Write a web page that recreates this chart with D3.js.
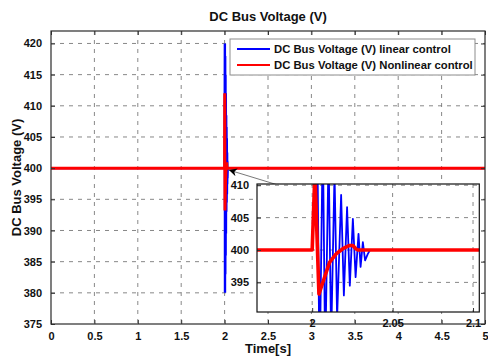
<!DOCTYPE html>
<html>
<head>
<meta charset="utf-8">
<script src="https://cdn.jsdelivr.net/npm/d3@7"></script>
<style>
  html, body { margin: 0; padding: 0; background: #fff; }
  svg { display: block; }
  text { font-family: "Liberation Sans", Arial, sans-serif; font-weight: bold; fill: #111; }
</style>
</head>
<body>
<svg id="chart" width="488" height="358"></svg>
<script>
// ---- data ----
const titleText = "DC Bus Voltage (V)";
const xLabelText = "Time[s]";
const yLabelText = "DC Bus Voltage (V)";
const seriesNames = ["DC Bus Voltage (V) linear control", "DC Bus Voltage (V) Nonlinear control"];
const seriesColors = ["#0000ff", "#ff0000"];

const mainXTicks = [0, 0.5, 1, 1.5, 2, 2.5, 3, 3.5, 4, 4.5, 5];
const mainXTickLabels = ["0", "0.5", "1", "1.5", "2", "2.5", "3", "3.5", "4", "4.5", "5"];
const mainYTicks = [375, 380, 385, 390, 395, 400, 405, 410, 415, 420];
const insetXTicks = [2, 2.05, 2.1];
const insetXTickLabels = ["2", "2.05", "2.1"];
const insetYTicks = [395, 400, 405, 410];

// linear control: oscillating transient after the step at t = 2 s
const linearTime = [0, 2.0, 2.0031, 2.0046, 2.0066, 2.0081, 2.0102, 2.0118, 2.0139, 2.0155,
  2.0180, 2.0197, 2.0217, 2.0234, 2.0253, 2.0270, 2.0288, 2.0301, 2.0315, 2.0329, 2.0346, 2.036, 5];
const linearVolt = [400, 400, 420, 380, 418, 383, 415, 386, 412, 389.5,
  408.5, 393, 406.6, 394.5, 404.8, 395.8, 402.5, 397.4, 401.2, 398.4, 399.4, 400, 400];

// nonlinear control: single overshoot, damped recovery
const nonlinearTime = [0, 2.0, 2.0017, 2.0042, 2.0077, 2.0108, 2.0149, 2.0191, 2.0232, 2.0253, 2.0273, 2.0284, 5];
const nonlinearVolt = [400, 400, 412, 393.2, 395.8, 398.1, 399.4, 400.2, 400.7, 400.7, 400.15, 400, 400];

// zoom-arrow: tip near the transient, tail at the inset corner (main-axes data units)
const arrowTip = [2.05, 399.7];
const arrowTail = [2.59, 397.4];

// ---- layout ----
const svg = d3.select("#chart");
const main = { left: 51, top: 31, right: 485, bottom: 324 };
const inset = { left: 257, top: 184, right: 479.3, bottom: 312 };

const x = d3.scaleLinear().domain([0, 5]).range([main.left, main.right]);
const y = d3.scaleLinear().domain([375, 422]).range([main.bottom, main.top]);
const xi = d3.scaleLinear().domain([1.9657, 2.1039]).range([inset.left, inset.right]);
const yi = d3.scaleLinear().domain([390.43, 410.19]).range([inset.bottom, inset.top]);

const gridColor = "#7a7a7a";
const dash = "4,5";

const defs = svg.append("defs");
defs.append("clipPath").attr("id", "clipMain").append("rect")
  .attr("x", main.left).attr("y", main.top)
  .attr("width", main.right - main.left).attr("height", main.bottom - main.top);
defs.append("clipPath").attr("id", "clipInset").append("rect")
  .attr("x", inset.left).attr("y", inset.top)
  .attr("width", inset.right - inset.left).attr("height", inset.bottom - inset.top);
defs.append("marker").attr("id", "arrowHead")
  .attr("viewBox", "0 0 10 10").attr("refX", 10).attr("refY", 5)
  .attr("markerWidth", 11).attr("markerHeight", 8).attr("markerUnits", "userSpaceOnUse")
  .attr("orient", "auto")
  .append("path").attr("d", "M0,0 L10,5 L0,10 L3,5 Z").attr("fill", "#000");

// plot area background
svg.append("rect").attr("x", main.left).attr("y", main.top)
  .attr("width", main.right - main.left).attr("height", main.bottom - main.top)
  .attr("fill", "#fff");

// grid of the main axes
const gMainGrid = svg.append("g");
gMainGrid.selectAll("line.gx").data(mainXTicks.slice(1, -1)).join("line")
  .attr("x1", d => x(d)).attr("x2", d => x(d))
  .attr("y1", main.top).attr("y2", main.bottom)
  .attr("stroke", gridColor).attr("stroke-width", 0.9).attr("stroke-dasharray", dash);
gMainGrid.selectAll("line.gy").data(mainYTicks.slice(1)).join("line")
  .attr("y1", d => y(d)).attr("y2", d => y(d))
  .attr("x1", main.left).attr("x2", main.right)
  .attr("stroke", gridColor).attr("stroke-width", 0.9).attr("stroke-dasharray", dash);

// series in the main axes
const lineMain = d3.line().x(d => x(d[0])).y(d => y(d[1]));
const linearPts = linearTime.map((t, i) => [t, linearVolt[i]]);
const nonlinearPts = nonlinearTime.map((t, i) => [t, nonlinearVolt[i]]);
const gMainData = svg.append("g").attr("clip-path", "url(#clipMain)");
gMainData.append("path").datum(linearPts).attr("d", lineMain)
  .attr("fill", "none").attr("stroke", seriesColors[0]).attr("stroke-width", 2.4);
gMainData.append("path").datum(nonlinearPts).attr("d", lineMain)
  .attr("fill", "none").attr("stroke", seriesColors[1]).attr("stroke-width", 3);

// main axes frame and inward ticks (all four sides)
const gMainAxes = svg.append("g");
const tickLen = 4;
gMainAxes.append("g").attr("transform", `translate(0,${main.bottom})`)
  .call(d3.axisBottom(x).tickValues(mainXTicks).tickFormat((d, i) => mainXTickLabels[i]).tickSizeInner(-tickLen).tickSizeOuter(0).tickPadding(8));
gMainAxes.append("g").attr("transform", `translate(0,${main.top})`)
  .call(d3.axisTop(x).tickValues(mainXTicks).tickFormat("").tickSizeInner(-tickLen).tickSizeOuter(0));
gMainAxes.append("g").attr("transform", `translate(${main.left},0)`)
  .call(d3.axisLeft(y).tickValues(mainYTicks).tickSizeInner(-tickLen).tickSizeOuter(0).tickPadding(9));
gMainAxes.append("g").attr("transform", `translate(${main.right},0)`)
  .call(d3.axisRight(y).tickValues(mainYTicks).tickFormat("").tickSizeInner(-tickLen).tickSizeOuter(0));
gMainAxes.selectAll(".domain").remove();
gMainAxes.selectAll(".tick line").attr("stroke", "#333").attr("stroke-width", 1);
gMainAxes.selectAll(".tick text").attr("font-size", 11).attr("font-weight", "bold")
  .attr("font-family", "Liberation Sans, Arial, sans-serif").attr("fill", "#111");
svg.append("rect").attr("x", main.left).attr("y", main.top)
  .attr("width", main.right - main.left).attr("height", main.bottom - main.top)
  .attr("fill", "none").attr("stroke", "#2a2a2a").attr("stroke-width", 1.2);

// titles
svg.append("text").attr("x", (main.left + main.right) / 2).attr("y", 21)
  .attr("text-anchor", "middle").attr("font-size", 13).text(titleText);
svg.append("text").attr("x", (main.left + main.right) / 2).attr("y", 353)
  .attr("text-anchor", "middle").attr("font-size", 13).text(xLabelText);
svg.append("text").attr("transform", `translate(21,${(main.top + main.bottom) / 2}) rotate(-90)`)
  .attr("text-anchor", "middle").attr("font-size", 13).text(yLabelText);

// legend
const legend = svg.append("g");
legend.append("rect").attr("x", 230).attr("y", 39).attr("width", 245).attr("height", 36)
  .attr("fill", "#fff").attr("stroke", "#8c8c8c").attr("stroke-width", 1);
seriesNames.forEach((name, i) => {
  const ly = 49 + i * 16;
  legend.append("line").attr("x1", 237).attr("x2", 270).attr("y1", ly).attr("y2", ly)
    .attr("stroke", seriesColors[i]).attr("stroke-width", 2.2);
  legend.append("text").attr("x", 274).attr("y", ly + 4).attr("font-size", 11.3).text(name);
});

// zoom arrow
svg.append("line")
  .attr("x1", x(arrowTail[0])).attr("y1", y(arrowTail[1]))
  .attr("x2", x(arrowTip[0])).attr("y2", y(arrowTip[1]))
  .attr("stroke", "#555").attr("stroke-width", 0.8)
  .attr("marker-end", "url(#arrowHead)");

// ---- inset axes ----
svg.append("rect").attr("x", inset.left).attr("y", inset.top)
  .attr("width", inset.right - inset.left).attr("height", inset.bottom - inset.top)
  .attr("fill", "#fff");
const gInsetGrid = svg.append("g");
gInsetGrid.selectAll("line.gx").data(insetXTicks).join("line")
  .attr("x1", d => xi(d)).attr("x2", d => xi(d))
  .attr("y1", inset.top).attr("y2", inset.bottom)
  .attr("stroke", gridColor).attr("stroke-width", 0.9).attr("stroke-dasharray", dash);
gInsetGrid.selectAll("line.gy").data(insetYTicks).join("line")
  .attr("y1", d => yi(d)).attr("y2", d => yi(d))
  .attr("x1", inset.left).attr("x2", inset.right)
  .attr("stroke", gridColor).attr("stroke-width", 0.9).attr("stroke-dasharray", dash);

const lineInset = d3.line().x(d => xi(d[0])).y(d => yi(d[1]));
const gInsetData = svg.append("g").attr("clip-path", "url(#clipInset)");
gInsetData.append("path").datum(linearPts).attr("d", lineInset)
  .attr("fill", "none").attr("stroke", seriesColors[0]).attr("stroke-width", 1.8)
  .attr("stroke-linejoin", "round");
gInsetData.append("path").datum(nonlinearPts).attr("d", lineInset)
  .attr("fill", "none").attr("stroke", seriesColors[1]).attr("stroke-width", 3.6)
  .attr("stroke-linejoin", "round");

const gInsetAxes = svg.append("g");
gInsetAxes.append("g").attr("transform", `translate(0,${inset.bottom})`)
  .call(d3.axisBottom(xi).tickValues(insetXTicks).tickFormat((d, i) => insetXTickLabels[i]).tickSizeInner(-tickLen).tickSizeOuter(0).tickPadding(7));
gInsetAxes.append("g").attr("transform", `translate(${inset.left},0)`)
  .call(d3.axisLeft(yi).tickValues(insetYTicks).tickSizeInner(-tickLen).tickSizeOuter(0).tickPadding(8));
gInsetAxes.selectAll(".domain").remove();
gInsetAxes.selectAll(".tick line").attr("stroke", "#333").attr("stroke-width", 1);
gInsetAxes.selectAll(".tick text").attr("font-size", 11).attr("font-weight", "bold")
  .attr("font-family", "Liberation Sans, Arial, sans-serif").attr("fill", "#111");
svg.append("rect").attr("x", inset.left).attr("y", inset.top)
  .attr("width", inset.right - inset.left).attr("height", inset.bottom - inset.top)
  .attr("fill", "none").attr("stroke", "#111").attr("stroke-width", 1.2);
</script>
</body>
</html>
